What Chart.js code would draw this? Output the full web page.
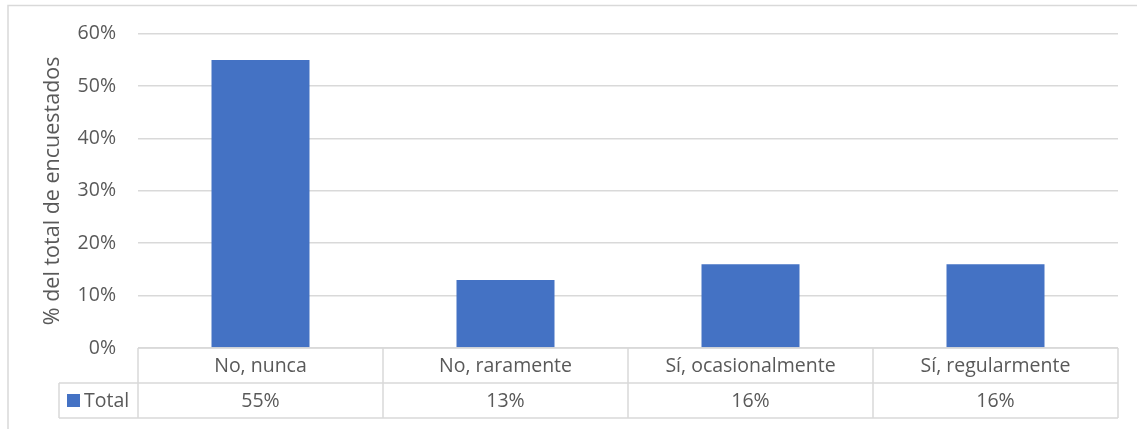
<!DOCTYPE html>
<html lang="es">
<head>
<meta charset="utf-8">
<title>% del total de encuestados</title>
<script src="https://cdn.jsdelivr.net/npm/chart.js@4/dist/chart.umd.min.js"></script>
<style>
  html, body { margin: 0; padding: 0; background: #ffffff; }
  #wrap { position: relative; width: 1137px; height: 429px; }
</style>
</head>
<body>
<div id="wrap"><canvas id="chart" width="1137" height="429"></canvas></div>
<script>
// Survey answers and the share of respondents for each one (percent)
const categories = ['No, nunca', 'No, raramente', 'Sí, ocasionalmente', 'Sí, regularmente'];
const seriesName = 'Total';
const totalValues = [55, 13, 16, 16];
const yTicks = [0, 10, 20, 30, 40, 50, 60];

const FONT = '"Open Sans", sans-serif';
const FONT_SIZE = 19.5;
const TITLE_SIZE = 21.5;
const TEXT = '#595959';
const LINE = '#d9d9d9';
const BAR = '#4472C4';

const fmtPct = v => Math.round(v) + '%';

// Frame around the chart plus the data table under the plot area
const dataTable = {
  id: 'dataTable',
  beforeDraw(chart) {
    const ctx = chart.ctx;
    ctx.save();
    ctx.strokeStyle = LINE;
    ctx.lineWidth = 1.5;
    ctx.beginPath();
    ctx.moveTo(8, chart.height);
    ctx.lineTo(8, 5.5);
    ctx.lineTo(chart.width, 5.5);
    ctx.stroke();
    ctx.restore();
  },
  afterDraw(chart) {
    const ctx = chart.ctx;
    const x = chart.scales.x;
    const area = chart.chartArea;
    const n = categories.length;
    const step = (area.right - area.left) / n;
    const top = area.bottom;
    const mid = top + 35;
    const bot = top + 70;
    const legendLeft = 59;

    ctx.save();
    ctx.strokeStyle = LINE;
    ctx.lineWidth = 1.5;
    ctx.beginPath();
    // horizontal rules
    ctx.moveTo(area.left, top); ctx.lineTo(area.right, top);
    ctx.moveTo(legendLeft, mid); ctx.lineTo(area.right, mid);
    ctx.moveTo(legendLeft, bot); ctx.lineTo(area.right, bot);
    // column separators
    for (let i = 0; i <= n; i++) {
      const px = area.left + i * step;
      ctx.moveTo(px, top); ctx.lineTo(px, bot);
    }
    ctx.moveTo(legendLeft, mid); ctx.lineTo(legendLeft, bot);
    ctx.stroke();

    ctx.fillStyle = TEXT;
    ctx.font = FONT_SIZE + 'px ' + FONT;
    ctx.textAlign = 'center';
    ctx.textBaseline = 'middle';
    categories.forEach((c, i) => {
      const cx = x.getPixelForValue(i);
      ctx.fillText(c, cx, (top + mid) / 2 + 1);
      ctx.fillText(fmtPct(totalValues[i]), cx, (mid + bot) / 2 + 1);
    });

    // legend key for the series row
    ctx.fillStyle = BAR;
    ctx.fillRect(67, (mid + bot) / 2 - 6.5, 13, 13);
    ctx.fillStyle = TEXT;
    ctx.textAlign = 'left';
    ctx.fillText(seriesName, 84, (mid + bot) / 2 + 1);
    ctx.restore();
  }
};

new Chart(document.getElementById('chart'), {
  type: 'bar',
  data: {
    labels: categories,
    datasets: [{
      label: seriesName,
      data: totalValues,
      backgroundColor: BAR,
      borderWidth: 0,
      barPercentage: 0.4,
      categoryPercentage: 1.0
    }]
  },
  options: {
    responsive: false,
    animation: false,
    devicePixelRatio: 1,
    layout: { padding: { left: 0, top: 33, right: 19, bottom: 81 } },
    plugins: {
      legend: { display: false },
      tooltip: { enabled: false }
    },
    scales: {
      x: {
        display: false,
        offset: true
      },
      y: {
        min: 0,
        max: 60,
        afterBuildTicks(scale) {
          scale.ticks = yTicks.map(v => ({ value: v }));
        },
        afterFit(scale) { scale.width = 138; },
        border: { display: false },
        grid: { color: LINE, lineWidth: 1.5, drawTicks: false },
        ticks: {
          padding: 22,
          color: TEXT,
          font: { family: FONT, size: FONT_SIZE },
          callback: v => v + '%'
        },
        title: {
          display: true,
          text: '% del total de encuestados',
          color: TEXT,
          font: { family: FONT, size: TITLE_SIZE },
          padding: { top: 40, bottom: 0 }
        }
      }
    }
  },
  plugins: [dataTable]
});
</script>
</body>
</html>
